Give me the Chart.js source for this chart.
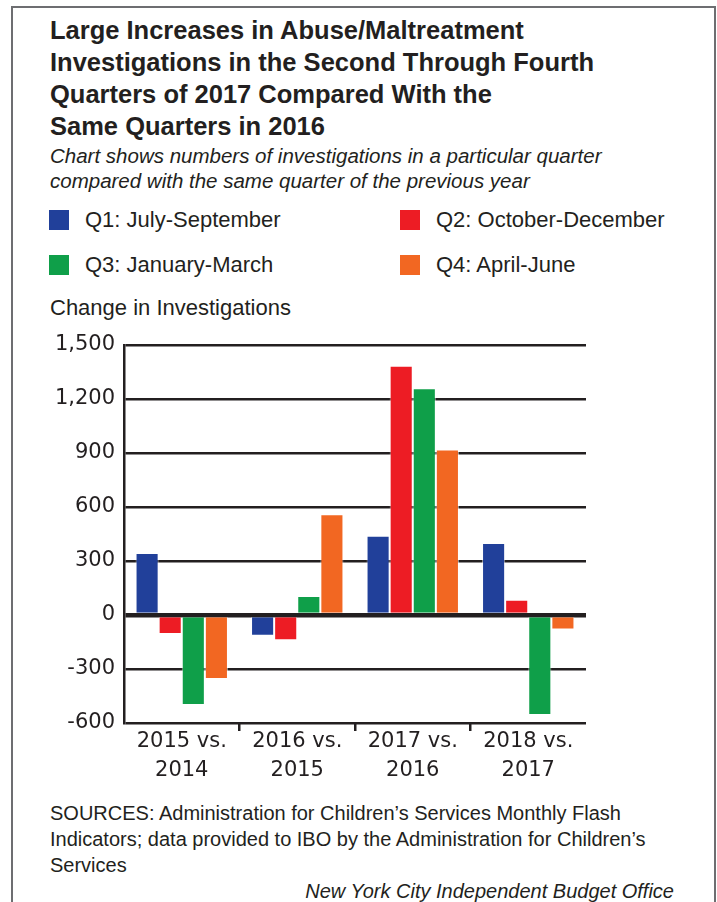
<!DOCTYPE html>
<html>
<head>
<meta charset="utf-8">
<script src="https://cdn.jsdelivr.net/npm/chart.js@4"></script>
<style>
  html, body {
    margin: 0;
    padding: 0;
    background: #fff;
  }
  body {
    width: 717px;
    height: 902px;
    position: relative;
    overflow: hidden;
    font-family: "Liberation Sans", Arial, sans-serif;
    color: #231f20;
  }
  .frame {
    position: absolute;
    left: 11px;
    top: 6px;
    width: 705px;
    height: 1000px;
    box-sizing: border-box;
    border: 2px solid #6d6e71;
  }
  .title {
    position: absolute;
    left: 50px;
    top: 14px;
    font-size: 25.5px;
    font-weight: bold;
    line-height: 32px;
  }
  .subtitle {
    position: absolute;
    left: 50px;
    top: 143px;
    font-size: 20.5px;
    font-style: italic;
    line-height: 25px;
  }
  .legend {
    position: absolute;
    left: 49px;
    top: 210px;
    display: grid;
    grid-template-columns: 351px auto;
    row-gap: 25px;
  }
  .legend-item {
    display: flex;
    align-items: center;
    height: 20px;
    font-size: 22px;
  }
  .legend-box {
    width: 20px;
    height: 20px;
    margin-right: 16px;
  }
  .axis-title {
    position: absolute;
    left: 50px;
    top: 295px;
    font-size: 22px;
    line-height: 26px;
  }
  .chart-wrap {
    position: absolute;
    left: 0;
    top: 330px;
    width: 620px;
    height: 470px;
  }
  .sources {
    position: absolute;
    left: 50px;
    top: 800px;
    font-size: 20px;
    line-height: 26px;
  }
  .credit {
    position: absolute;
    right: 43px;
    top: 878px;
    font-size: 20px;
    font-style: italic;
    line-height: 26px;
  }
</style>
</head>
<body>
<div class="frame"></div>
<div class="title">Large Increases in Abuse/Maltreatment<br>Investigations in the Second Through Fourth<br>Quarters of 2017 Compared With the<br>Same Quarters in 2016</div>
<div class="subtitle">Chart shows numbers of investigations in a particular quarter<br>compared with the same quarter of the previous year</div>
<div class="legend" id="legend"></div>
<div class="axis-title">Change in Investigations</div>
<div class="chart-wrap"><canvas id="chart"></canvas></div>
<div class="sources">SOURCES: Administration for Children’s Services Monthly Flash<br>Indicators; data provided to IBO by the Administration for Children’s<br>Services</div>
<div class="credit">New York City Independent Budget Office</div>

<script>
// Year-over-year change in investigations, one series per quarter
const periods = [['2015 vs.', '2014'], ['2016 vs.', '2015'], ['2017 vs.', '2016'], ['2018 vs.', '2017']];
const quarterNames = ['Q1: July-September', 'Q2: October-December', 'Q3: January-March', 'Q4: April-June'];
const q1Change = [345, -115, 440, 400];
const q2Change = [-105, -140, 1385, 85];
const q3Change = [-500, 105, 1260, -555];
const q4Change = [-355, 560, 920, -80];
const yTicks = { min: -600, max: 1500, step: 300 };

const INK = '#231f20';
const quarterColors = ['#21409a', '#ed1c24', '#0f9f49', '#f26722'];
const series = [q1Change, q2Change, q3Change, q4Change];

const tickFont = { family: '"DejaVu Sans", sans-serif', size: 21, lineHeight: 1.38 };

const chart = new Chart(document.getElementById('chart'), {
  type: 'bar',
  data: {
    labels: periods,
    datasets: series.map((values, i) => ({
      label: quarterNames[i],
      data: values,
      backgroundColor: quarterColors[i],
      borderColor: 'rgba(255, 255, 255, 0.55)',
      borderWidth: 1,
      categoryPercentage: 0.8,
      barPercentage: 1.0
    }))
  },
  options: {
    responsive: true,
    maintainAspectRatio: false,
    animation: false,
    layout: {
      padding: { top: 15, right: 34, bottom: 0, left: 0 }
    },
    plugins: {
      legend: { display: false },
      tooltip: { enabled: false }
    },
    scales: {
      x: {
        grid: {
          offset: true,
          drawOnChartArea: false,
          drawTicks: true,
          tickLength: 8,
          lineWidth: 2.5,
          // only the dividers between periods, not the outer edges
          color: ctx => (ctx.index > 0 ? INK : 'transparent')
        },
        border: { display: false },
        ticks: {
          font: tickFont,
          color: INK,
          padding: -4,
          maxRotation: 0,
          autoSkip: false
        },
        afterFit: scale => { scale.height = 77; }
      },
      y: {
        min: yTicks.min,
        max: yTicks.max,
        grid: {
          color: INK,
          drawTicks: false,
          lineWidth: ctx => (ctx.tick && ctx.tick.value === 0 ? 4.5 : 2.5)
        },
        border: { display: true, color: INK, width: 2.5 },
        ticks: {
          stepSize: yTicks.step,
          font: tickFont,
          color: INK,
          padding: 9,
          callback: v => v.toLocaleString('en-US')
        },
        afterFit: scale => {
          scale.width = 124;
          // the layout padding already leaves room for the end labels
          scale.paddingTop = 0;
          scale.paddingBottom = 0;
        }
      }
    }
  }
});

// Two-column legend built from the chart's datasets
const legendEl = document.getElementById('legend');
chart.data.datasets.forEach(ds => {
  const item = document.createElement('div');
  item.className = 'legend-item';

  const box = document.createElement('span');
  box.className = 'legend-box';
  box.style.background = ds.backgroundColor;

  const text = document.createElement('span');
  text.textContent = ds.label;

  item.appendChild(box);
  item.appendChild(text);
  legendEl.appendChild(item);
});
</script>
</body>
</html>
